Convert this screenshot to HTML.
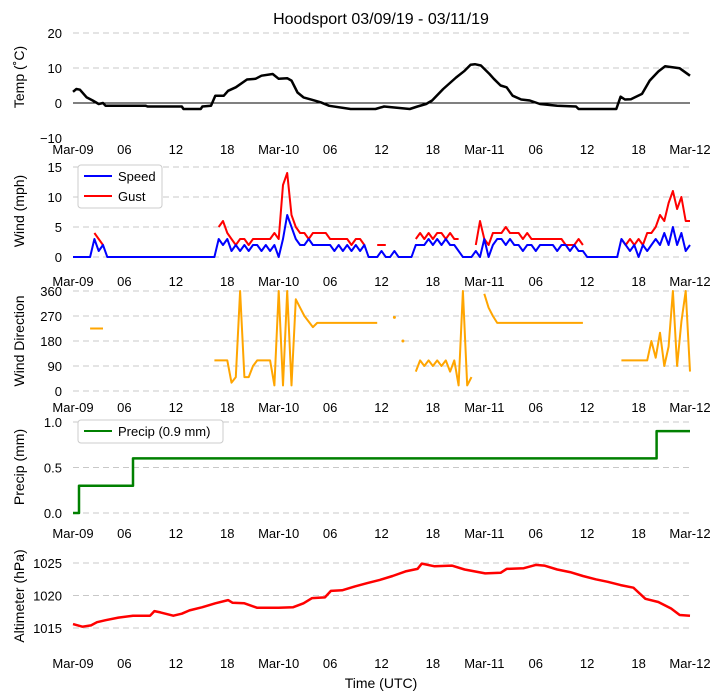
<!DOCTYPE html>
<html><head><meta charset="utf-8">
<style>
body{margin:0;background:#fff;}
svg{display:block;font-family:"Liberation Sans","DejaVu Sans",sans-serif;}
</style></head>
<body>
<svg id="chart" width="722" height="700" xmlns="http://www.w3.org/2000/svg">
<text x="381" y="24" font-size="16" text-anchor="middle">Hoodsport 03/09/19 - 03/11/19</text>
<text x="381" y="688" font-size="14" text-anchor="middle">Time (UTC)</text>
</svg>
<script>
const xTickHours=[0,6,12,18,24,30,36,42,48,54,60,66,72];
const xTickLabels=["Mar-09","06","12","18","Mar-10","06","12","18","Mar-11","06","12","18","Mar-12"];
// temperature (hour, degC)
const tempHours=[0,0.4,0.8,1.6,2.3,3,3.5,3.8,8.5,8.7,12.7,12.9,14.9,15.1,16.1,16.6,17.6,18.1,19,20.3,21.3,22,23.3,24,25,25.5,26.2,26.9,27.9,28.9,29.9,32.4,35.3,36.3,39.3,40.2,41.2,41.9,43.2,44.7,45.7,46.4,46.9,47.6,48.6,49.1,49.9,50.6,51.3,52.3,53.3,54.5,56.5,58.7,59,63.4,63.9,64.4,65.1,66.4,67.3,68.3,69.1,70.8,72];
const tempValues=[3.2,4,3.8,1.6,0.7,-0.3,0,-0.8,-0.8,-1,-1,-1.7,-1.7,-1,-0.8,2.1,2.1,3.5,4.5,6.7,6.9,7.8,8.3,6.9,7.1,6.4,3,1.6,0.9,0.2,-0.8,-1.7,-1.7,-1,-1.7,-1,-0.3,0.7,4,7.3,9.2,10.9,11.1,10.7,8.3,6.9,5,4.5,2.1,1,0.7,-0.3,-0.8,-1,-1.7,-1.7,1.8,1,1.1,2.6,6.4,9,10.5,9.9,7.8];
// wind, half-hourly
const windSpeed=[0,0,0,0,0,3,1,2,0,0,0,0,0,0,0,0,0,0,0,0,0,0,0,0,0,0,0,0,0,0,0,0,0,0,3,2,3,1,2,1,2,1,2,2,1,2,1,2,0,3,7,5,3,2,2,3,2,2,2,2,2,1,2,1,2,1,2,1,2,0,0,0,1,0,0,1,0,0,0,0,2,2,2,3,2,3,2,3,2,2,1,0,0,0,1,0,3,0,2,3,3,2,3,2,2,1,2,2,1,2,2,2,2,1,2,2,1,2,1,1,0,0,0,0,0,0,0,0,3,2,1,2,0,2,1,2,3,2,4,2,5,2,4,1,2];
const windGust=[null,null,null,null,null,4,3,2,null,null,null,null,null,null,null,null,null,null,null,null,null,null,null,null,null,null,null,null,null,null,null,null,null,null,5,6,4,3,2,3,3,2,3,3,3,3,3,4,3,12,14,7,5,4,4,3,4,4,4,4,3,3,3,3,3,2,3,3,2,null,null,2,2,2,null,null,null,null,null,null,3,4,3,4,3,4,4,3,4,3,3,null,null,null,2,6,3,2,4,4,4,5,4,4,4,3,4,3,3,3,3,3,3,3,3,2,2,2,3,2,null,null,null,null,null,null,null,null,3,2,3,2,3,2,4,4,5,7,6,9,11,8,10,6,6];
const windDir=[null,null,null,null,225,225,225,225,null,null,null,null,null,null,null,null,null,null,null,null,null,null,null,null,null,null,null,null,null,null,null,null,null,110,110,110,110,30,50,360,50,50,90,110,110,110,110,20,360,20,360,20,330,300,270,250,230,245,245,245,245,245,245,245,245,245,245,245,245,245,245,245,null,null,null,265,null,180,null,null,70,110,90,110,90,110,90,110,70,110,20,360,20,50,null,null,350,300,270,245,245,245,245,245,245,245,245,245,245,245,245,245,245,245,245,245,245,245,245,245,null,null,null,null,null,null,null,null,110,110,110,110,110,110,110,180,120,210,90,160,360,90,250,360,70];
// precip (hour, mm)
const precipHours=[0,0.7,0.7,7,7,68.1,68.1,72];
const precipValues=[0,0,0.3,0.3,0.6,0.6,0.9,0.9];
// altimeter (hour, hPa)
const altHours=[0,1.1,2.1,2.8,3.8,5.3,7,9,9.5,10.2,11.7,12.7,13.6,15.1,16.6,18.1,18.6,20,21.5,24,25.7,26.9,27.9,29.4,30.1,31.4,32.9,34.3,35.8,37.3,38.8,40.2,40.7,42.2,44.2,45.7,48.1,49.9,50.6,52.6,54,55,56.5,58,59.5,61,62.4,63.9,65.4,66.8,68.3,69.8,70.8,72];
const altValues=[1015.6,1015.2,1015.4,1015.9,1016.2,1016.6,1016.9,1016.9,1017.6,1017.4,1016.9,1017.2,1017.7,1018.2,1018.8,1019.3,1018.9,1018.8,1018.1,1018.1,1018.2,1018.8,1019.6,1019.7,1020.7,1020.8,1021.4,1021.9,1022.4,1023,1023.7,1024.1,1024.9,1024.5,1024.6,1024,1023.4,1023.5,1024.1,1024.2,1024.7,1024.6,1024,1023.6,1023,1022.5,1022.1,1021.6,1021.2,1019.5,1019,1018,1017,1016.9];

const svg=document.getElementById('chart');
const NS='http://www.w3.org/2000/svg';
const X0=73,X1=690;
function xs(h){return X0+(X1-X0)*h/72;}
function mk(tag,attrs,parent){const e=document.createElementNS(NS,tag);for(const k in attrs)e.setAttribute(k,attrs[k]);(parent||svg).appendChild(e);return e;}
function scaleY(v0,y0,v1,y1){return v=>y0+(v-v0)*(y1-y0)/(v1-v0);}

const panels=[
 {name:'temp',label:'Temp (˚C)',ys:scaleY(0,103,10,68),ticks:[20,10,0,-10],tl:['20','10','0','−10'],grid:[20,10],labY:154,ymid:77},
 {name:'wind',label:'Wind (mph)',ys:scaleY(0,257,15,167),ticks:[15,10,5,0],tl:['15','10','5','0'],grid:[15,10,5,0],labY:286,ymid:211},
 {name:'direction',label:'Wind Direction',ys:scaleY(0,391,360,291),ticks:[360,270,180,90,0],tl:['360','270','180','90','0'],grid:[360,270,180,90,0],labY:412,ymid:341},
 {name:'precip',label:'Precip (mm)',ys:scaleY(0,513,1,422),ticks:[1,0.5,0],tl:['1.0','0.5','0.0'],grid:[1,0.5,0],labY:538,ymid:467},
 {name:'altimeter',label:'Altimeter (hPa)',ys:scaleY(1015,628,1025,563),ticks:[1025,1020,1015],tl:['1025','1020','1015'],grid:[1025,1020,1015],labY:668,ymid:596}
];
panels.forEach(p=>{
 const g=mk('g',{});
 
 
 p.g=g;
 p.grid.forEach(v=>{
  const l=mk('line',{x1:X0,x2:X1,y1:p.ys(v),y2:p.ys(v),stroke:'#c8c8c8','stroke-width':1,'stroke-dasharray':'6,4'},g);
  
  
 });
 p.ticks.forEach((v,i)=>{
  const t=mk('text',{x:62,y:p.ys(v)+5,'font-size':13,'text-anchor':'end'},g);
  t.textContent=p.tl[i];
  
  
 });
 xTickHours.forEach((h,i)=>{
  const t=mk('text',{x:xs(h),y:p.labY,'font-size':13,'text-anchor':'middle'},g);
  t.textContent=xTickLabels[i];
  
  
 });
 const yl=mk('text',{x:0,y:0,'font-size':14,'text-anchor':'middle',transform:'translate(24,'+p.ymid+') rotate(-90)'},g);
 yl.textContent=p.label;
 
 
});
function drawSeries(g,hours,vals,ys,color,name,width){
 let seg=[];const segs=[];
 vals.forEach((v,i)=>{if(v===null){if(seg.length)segs.push(seg);seg=[];}else seg.push(xs(hours[i]).toFixed(1)+','+ys(v).toFixed(1));});
 if(seg.length)segs.push(seg);
 segs.forEach(s=>{
  if(s.length===1){const [a,b]=s[0].split(',');const c=mk('circle',{cx:a,cy:b,r:1.5,fill:color},g);
   
   return;}
  const pl=mk('polyline',{points:s.join(' '),fill:'none',stroke:color,'stroke-width':width,'stroke-linejoin':'round'},g);
  
  
 });
}
const halfHours=windSpeed.map((_,i)=>i/2);
// temp zero line
const zl=mk('line',{x1:X0,x2:X1,y1:103,y2:103,stroke:'#000','stroke-width':1},panels[0].g);


drawSeries(panels[0].g,tempHours,tempValues,panels[0].ys,'#000','temp',2.5);
drawSeries(panels[1].g,halfHours,windGust,panels[1].ys,'#ff0000','gust',2);
drawSeries(panels[1].g,halfHours,windSpeed,panels[1].ys,'#0000ff','speed',2);
drawSeries(panels[2].g,halfHours,windDir,panels[2].ys,'#ffa500','direction',2);
drawSeries(panels[3].g,precipHours,precipValues,panels[3].ys,'#008000','precip',2.5);
drawSeries(panels[4].g,altHours,altValues,panels[4].ys,'#ff0000','altimeter',2.5);

// legends
function legend(x,y,w,h,items,name){
 const g=mk('g',{});
 
 
 mk('rect',{x:x,y:y,width:w,height:h,rx:3,fill:'#fff',stroke:'#ccc','stroke-width':1},g);
 items.forEach((it,i)=>{
  const yy=y+11+i*20;
  const l=mk('line',{x1:x+6,x2:x+34,y1:yy,y2:yy,stroke:it[1],'stroke-width':2},g);
  
  
  const t=mk('text',{x:x+40,y:yy+5,'font-size':13},g);
  t.textContent=it[0];
  
  
 });
}
legend(78,165,84,43,[['Speed','#0000ff'],['Gust','#ff0000']],'wind-legend');
legend(78,420,145,23,[['Precip (0.9 mm)','#008000']],'precip-legend');
</script>
</body></html>
